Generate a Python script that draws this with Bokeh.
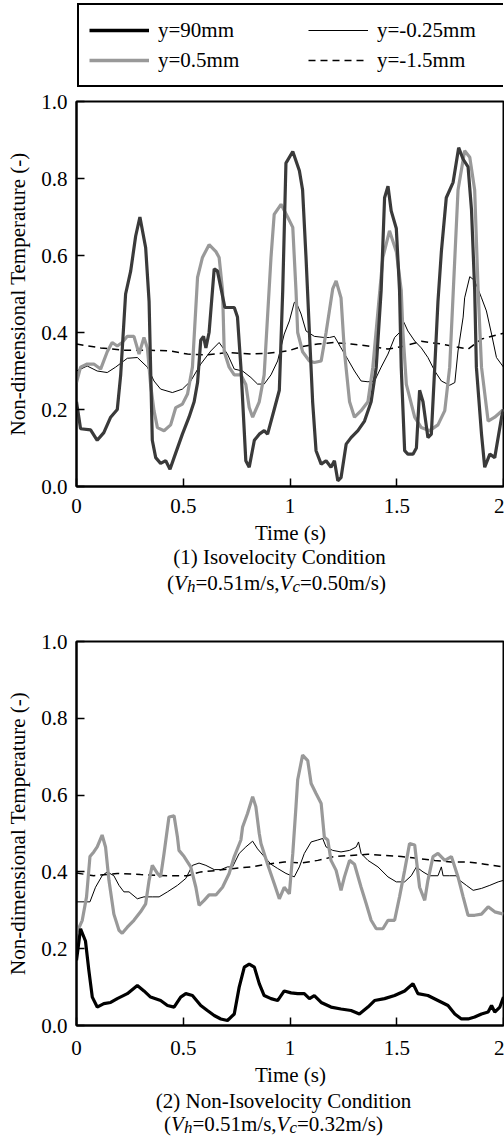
from bokeh.plotting import figure
from bokeh.layouts import column
from bokeh.models import Legend, LegendItem, Label, FixedTicker, Range1d
from bokeh.embed import file_html
from bokeh.resources import INLINE

FONT = "Liberation Serif"

# ---------------- data: chart (1) isovelocity ----------------
t1_90 = [0, 0.019, 0.066, 0.097, 0.128, 0.160, 0.191, 0.207, 0.230, 0.254, 0.277, 0.297, 0.324, 0.340,
         0.355, 0.371, 0.394, 0.418, 0.438, 0.457, 0.496, 0.527, 0.551, 0.567, 0.582, 0.595, 0.606,
         0.621, 0.645, 0.660, 0.695, 0.739, 0.754, 0.770, 0.793, 0.809, 0.833, 0.856, 0.879, 0.895,
         0.926, 0.950, 0.966, 0.981, 1.013, 1.044, 1.059, 1.075, 1.091, 1.106, 1.122, 1.146, 1.169,
         1.192, 1.208, 1.224, 1.239, 1.263, 1.286, 1.318, 1.349, 1.380, 1.404, 1.427, 1.443, 1.459,
         1.474, 1.498, 1.513, 1.521, 1.537, 1.552, 1.576, 1.592, 1.607, 1.623, 1.646, 1.662, 1.678,
         1.693, 1.709, 1.732, 1.764, 1.790, 1.811, 1.834, 1.850, 1.865, 1.873, 1.897, 1.912, 1.936,
         1.959, 1.991, 2.0]
v1_90 = [0.22, 0.15, 0.147, 0.12, 0.14, 0.18, 0.20, 0.29, 0.50, 0.56, 0.65, 0.70, 0.62, 0.48,
         0.12, 0.075, 0.06, 0.067, 0.045, 0.075, 0.136, 0.18, 0.22, 0.27, 0.38, 0.39, 0.36,
         0.40, 0.565, 0.56, 0.465, 0.465, 0.44, 0.31, 0.067, 0.05, 0.12, 0.136, 0.145, 0.136,
         0.20, 0.25, 0.51, 0.84, 0.87, 0.82, 0.77, 0.595, 0.40, 0.22, 0.093, 0.058, 0.067,
         0.05, 0.067, 0.015, 0.023, 0.11, 0.127, 0.145, 0.17, 0.22, 0.31, 0.51, 0.75, 0.78,
         0.716, 0.67, 0.51, 0.31, 0.093, 0.084, 0.084, 0.10, 0.25, 0.22, 0.127, 0.136, 0.31,
         0.48, 0.61, 0.75, 0.79, 0.88, 0.85, 0.83, 0.72, 0.51, 0.31, 0.136, 0.05, 0.084,
         0.075, 0.18, 0.20]

t1_05 = [0, 0.019, 0.050, 0.081, 0.113, 0.144, 0.167, 0.191, 0.214, 0.238, 0.269, 0.293, 0.316, 0.332,
         0.347, 0.363, 0.379, 0.410, 0.441, 0.465, 0.496, 0.520, 0.543, 0.567, 0.590, 0.621, 0.653,
         0.668, 0.684, 0.692, 0.715, 0.739, 0.770, 0.793, 0.809, 0.825, 0.856, 0.879, 0.911, 0.926,
         0.958, 0.989, 1.013, 1.028, 1.036, 1.059, 1.091, 1.114, 1.146, 1.169, 1.200, 1.216, 1.239,
         1.255, 1.279, 1.302, 1.333, 1.365, 1.388, 1.435, 1.466, 1.498, 1.521, 1.529, 1.545, 1.584,
         1.615, 1.654, 1.693, 1.725, 1.748, 1.787, 1.818, 1.842, 1.865, 1.881, 1.897, 1.928, 1.959,
         2.0]
v1_05 = [0.27, 0.31, 0.318, 0.318, 0.305, 0.35, 0.374, 0.365, 0.374, 0.39, 0.39, 0.344, 0.387, 0.36,
         0.265, 0.197, 0.153, 0.145, 0.16, 0.205, 0.214, 0.24, 0.31, 0.543, 0.595, 0.628, 0.61,
         0.595, 0.51, 0.35, 0.31, 0.29, 0.29, 0.265, 0.205, 0.18, 0.22, 0.29, 0.595, 0.707,
         0.733, 0.70, 0.673, 0.51, 0.40, 0.35, 0.326, 0.322, 0.326, 0.40, 0.513, 0.534, 0.49,
         0.35, 0.22, 0.18, 0.197, 0.22, 0.31, 0.595, 0.664, 0.61, 0.51, 0.40, 0.265, 0.18,
         0.153, 0.145, 0.16, 0.197, 0.31, 0.77, 0.872, 0.855, 0.77, 0.51, 0.31, 0.17, 0.18,
         0.20]

t1_m025 = [0, 0.050, 0.097, 0.144, 0.183, 0.238, 0.285, 0.332, 0.363, 0.394, 0.449, 0.496, 0.535, 0.582,
           0.629, 0.668, 0.707, 0.739, 0.778, 0.817, 0.848, 0.879, 0.911, 0.942, 0.973, 0.997, 1.020,
           1.028, 1.052, 1.075, 1.114, 1.161, 1.185, 1.208, 1.239, 1.271, 1.302, 1.333, 1.365, 1.396,
           1.427, 1.459, 1.490, 1.513, 1.534, 1.552, 1.584, 1.615, 1.646, 1.678, 1.709, 1.748, 1.772,
           1.787, 1.811, 1.818, 1.842, 1.865, 1.897, 1.920, 1.944, 1.967, 2.0]
v1_m025 = [0.30, 0.313, 0.30, 0.296, 0.31, 0.333, 0.335, 0.31, 0.274, 0.253, 0.244, 0.253, 0.274, 0.318,
           0.352, 0.374, 0.344, 0.305, 0.30, 0.283, 0.266, 0.266, 0.29, 0.326, 0.396, 0.43, 0.478,
           0.48, 0.448, 0.404, 0.39, 0.387, 0.387, 0.39, 0.36, 0.33, 0.30, 0.274, 0.272, 0.274,
           0.31, 0.344, 0.387, 0.40, 0.426, 0.404, 0.378, 0.36, 0.335, 0.30, 0.274, 0.263, 0.27,
           0.352, 0.44, 0.49, 0.545, 0.535, 0.49, 0.456, 0.396, 0.335, 0.31]

t1_m15 = [0, 0.113, 0.222, 0.347, 0.441, 0.520, 0.613, 0.707, 0.817, 0.895, 0.989, 1.052, 1.130, 1.208,
          1.286, 1.365, 1.459, 1.521, 1.615, 1.709, 1.834, 1.897, 2.0]
v1_m15 = [0.37, 0.36, 0.354, 0.354, 0.352, 0.344, 0.342, 0.348, 0.344, 0.346, 0.352, 0.363, 0.37, 0.374,
          0.37, 0.365, 0.357, 0.363, 0.377, 0.37, 0.357, 0.383, 0.398]

# ---------------- data: chart (2) non-isovelocity ----------------
t2_90 = [0, 0.019, 0.042, 0.058, 0.074, 0.097, 0.128, 0.160, 0.191, 0.238, 0.285, 0.316, 0.347, 0.394,
         0.426, 0.457, 0.488, 0.512, 0.543, 0.582, 0.613, 0.645, 0.676, 0.707, 0.739, 0.762, 0.786,
         0.809, 0.833, 0.856, 0.879, 0.911, 0.942, 0.973, 1.005, 1.036, 1.067, 1.091, 1.114, 1.146,
         1.192, 1.239, 1.286, 1.325, 1.365, 1.396, 1.443, 1.490, 1.537, 1.576, 1.599, 1.646, 1.693,
         1.740, 1.772, 1.803, 1.834, 1.865, 1.897, 1.928, 1.944, 1.959, 1.983, 2.0]
v2_90 = [0.17, 0.252, 0.22, 0.143, 0.074, 0.048, 0.057, 0.06, 0.07, 0.083, 0.104, 0.09, 0.074, 0.065,
         0.052, 0.048, 0.074, 0.083, 0.078, 0.052, 0.039, 0.026, 0.017, 0.013, 0.03, 0.10, 0.152,
         0.16, 0.152, 0.109, 0.078, 0.07, 0.065, 0.09, 0.085, 0.083, 0.083, 0.07, 0.078, 0.06,
         0.048, 0.043, 0.039, 0.03, 0.048, 0.065, 0.07, 0.078, 0.09, 0.109, 0.083, 0.078, 0.065,
         0.052, 0.03, 0.017, 0.017, 0.022, 0.03, 0.035, 0.052, 0.035, 0.048, 0.074]

t2_05 = [0, 0.027, 0.047, 0.063, 0.081, 0.097, 0.120, 0.136, 0.152, 0.175, 0.199, 0.214, 0.238, 0.269,
         0.300, 0.324, 0.340, 0.355, 0.379, 0.394, 0.410, 0.433, 0.457, 0.473, 0.480, 0.504, 0.535,
         0.559, 0.574, 0.598, 0.621, 0.653, 0.684, 0.715, 0.739, 0.770, 0.778, 0.801, 0.825, 0.840,
         0.856, 0.864, 0.895, 0.926, 0.950, 0.973, 0.997, 1.013, 1.028, 1.036, 1.059, 1.083, 1.099,
         1.122, 1.146, 1.161, 1.177, 1.192, 1.216, 1.239, 1.255, 1.279, 1.302, 1.333, 1.357, 1.380,
         1.404, 1.435, 1.459, 1.490, 1.513, 1.537, 1.560, 1.584, 1.607, 1.631, 1.646, 1.670, 1.693,
         1.725, 1.756, 1.787, 1.811, 1.834, 1.865, 1.897, 1.928, 1.959, 2.0]
v2_05 = [0.24, 0.274, 0.335, 0.44, 0.452, 0.465, 0.496, 0.465, 0.378, 0.29, 0.248, 0.24, 0.256, 0.274,
         0.296, 0.317, 0.378, 0.417, 0.396, 0.387, 0.448, 0.543, 0.546, 0.49, 0.456, 0.44, 0.413,
         0.36, 0.313, 0.326, 0.34, 0.34, 0.36, 0.396, 0.44, 0.483, 0.517, 0.552, 0.596, 0.57,
         0.50, 0.474, 0.42, 0.37, 0.33, 0.36, 0.343, 0.448, 0.57, 0.64, 0.704, 0.69, 0.63,
         0.604, 0.578, 0.49, 0.483, 0.43, 0.404, 0.352, 0.387, 0.43, 0.42, 0.36, 0.317, 0.274,
         0.252, 0.252, 0.274, 0.274, 0.335, 0.404, 0.474, 0.47, 0.36, 0.326, 0.378, 0.44, 0.448,
         0.43, 0.44, 0.387, 0.335, 0.287, 0.287, 0.29, 0.309, 0.296, 0.29]

t2_m025 = [0, 0.063, 0.089, 0.120, 0.144, 0.175, 0.199, 0.222, 0.246, 0.285, 0.316, 0.355, 0.387, 0.426,
           0.473, 0.512, 0.543, 0.574, 0.606, 0.645, 0.676, 0.707, 0.731, 0.762, 0.793, 0.825, 0.848,
           0.879, 0.911, 0.942, 0.981, 1.020, 1.044, 1.067, 1.099, 1.130, 1.153, 1.169, 1.200, 1.239,
           1.279, 1.310, 1.321, 1.333, 1.365, 1.412, 1.459, 1.498, 1.537, 1.568, 1.592, 1.623, 1.654,
           1.693, 1.709, 1.717, 1.748, 1.779, 1.795, 1.826, 1.858, 1.897, 1.936, 1.975, 2.0]
v2_m025 = [0.322, 0.322, 0.36, 0.39, 0.40, 0.39, 0.365, 0.348, 0.348, 0.33, 0.335, 0.335, 0.335, 0.348,
           0.365, 0.383, 0.417, 0.423, 0.417, 0.406, 0.406, 0.413, 0.413, 0.448, 0.465, 0.48, 0.46,
           0.44, 0.42, 0.409, 0.396, 0.387, 0.413, 0.448, 0.478, 0.483, 0.487, 0.465, 0.456, 0.452,
           0.456, 0.465, 0.478, 0.448, 0.43, 0.413, 0.387, 0.374, 0.374, 0.39, 0.413, 0.40, 0.39,
           0.39, 0.413, 0.39, 0.39, 0.39, 0.378, 0.365, 0.352, 0.357, 0.365, 0.374, 0.378]

t2_m15 = [0, 0.081, 0.191, 0.300, 0.426, 0.520, 0.582, 0.660, 0.739, 0.817, 0.895, 0.973, 1.052, 1.130,
          1.208, 1.286, 1.365, 1.443, 1.521, 1.599, 1.678, 1.756, 1.834, 1.912, 2.0]
v2_m15 = [0.397, 0.39, 0.396, 0.393, 0.39, 0.39, 0.40, 0.404, 0.409, 0.413, 0.42, 0.426, 0.423, 0.43,
          0.44, 0.443, 0.446, 0.443, 0.44, 0.435, 0.43, 0.426, 0.426, 0.42, 0.413]

series_labels = ["y=90mm", "y=0.5mm", "y=-0.25mm", "y=-1.5mm"]
x_ticks = [0, 0.5, 1, 1.5, 2]
x_tick_labels = ["0", "0.5", "1", "1.5", "2"]
y_ticks = [0.0, 0.2, 0.4, 0.6, 0.8, 1.0]
y_tick_labels = ["0.0", "0.2", "0.4", "0.6", "0.8", "1.0"]
x_title = "Time (s)"
y_title = "Non-dimensional Temperature (-)"

W = 504
FS = "21px"
LEFT = 76
RIGHT = 1
SUB = 17
DY = 6   # baseline correction for caption labels

# Times / Liberation Serif advance widths (per 1000 em)
ADV = {"(": 333, ")": 333, "=": 564, "0": 500, "1": 500, "2": 500, "3": 500, "5": 500, ".": 250,
       "m": 778, "/": 278, "s": 389, ",": 250}
ADV_IT = {"V": 611, "h": 500, "c": 444}


def text_width(s, size, italic=False):
    table = ADV_IT if italic else ADV
    return sum(table.get(ch, 500) for ch in s) * size / 1000.0


def style_axes(p, tick_standoff):
    p.xgrid.visible = False
    p.ygrid.visible = False
    p.outline_line_color = "black"
    p.outline_line_width = 2
    p.xaxis.ticker = FixedTicker(ticks=x_ticks)
    p.xaxis.major_label_overrides = {k: v for k, v in zip(x_ticks, x_tick_labels)}
    p.yaxis.ticker = FixedTicker(ticks=y_ticks)
    p.yaxis.major_label_overrides = {k: v for k, v in zip(y_ticks, y_tick_labels)}
    for ax in (p.xaxis[0], p.yaxis[0]):
        ax.axis_line_width = 2
        ax.axis_line_color = "black"
        ax.major_tick_in = 8
        ax.major_tick_out = 0
        ax.minor_tick_in = 0
        ax.minor_tick_out = 0
        ax.major_tick_line_width = 1.5
        ax.major_label_text_font = FONT
        ax.major_label_text_font_size = FS
        ax.major_label_text_color = "black"
        ax.axis_label_text_font = FONT
        ax.axis_label_text_font_size = FS
        ax.axis_label_text_font_style = "normal"
        ax.axis_label_text_color = "black"
    p.yaxis.axis_label = y_title
    p.xaxis.major_label_standoff = tick_standoff
    p.yaxis.major_label_standoff = 9
    p.yaxis.axis_label_standoff = 8


def add_lines(p, data, dark):
    (ta, va), (tb, vb), (tc, vc), (td, vd) = data
    rc = p.line(tc, vc, line_color="black", line_width=1)
    rd = p.line(td, vd, line_color="black", line_width=1.5, line_dash="7 5")
    rb = p.line(tb, vb, line_color="#999999", line_width=3.2)
    ra = p.line(ta, va, line_color=dark, line_width=3.2)
    return [ra, rb, rc, rd]


def make_chart(height, top, bottom, data, dark, tick_standoff):
    p = figure(width=W, height=height, x_range=Range1d(0, 2), y_range=Range1d(0, 1),
               output_backend="svg", toolbar_location=None, title=None,
               min_border_left=LEFT, min_border_right=RIGHT, min_border_top=top, min_border_bottom=bottom)
    style_axes(p, tick_standoff)
    add_lines(p, data, dark)
    return p


def blank(height, **kw):
    c = figure(width=W, height=height, output_backend="svg", toolbar_location=None, title=None,
               x_axis_type=None, y_axis_type=None, outline_line_color=None,
               min_border_left=LEFT, min_border_right=RIGHT, min_border_top=0, min_border_bottom=0, **kw)
    c.xgrid.visible = False
    c.ygrid.visible = False
    return c


def make_caption(height, line1, vh, vc, cx0, cx1, cx2, y0, y1, y2):
    c = blank(height)
    for txt, cx, y in ((x_title, cx0, y0), (line1, cx1, y1)):
        c.add_layout(Label(x=cx, y=y + DY, x_units="screen", y_units="screen", text=txt,
                           text_font=FONT, text_font_size=FS, text_align="center",
                           text_baseline="alphabetic", text_color="black"))
    pieces = [("(", False, False), ("V", True, False), ("h", True, True), ("=" + vh + "m/s,", False, False),
              ("V", True, False), ("c", True, True), ("=" + vc + "m/s)", False, False)]
    full = sum(text_width(t, SUB if s else 21, i) for t, i, s in pieces)
    x = cx2 - full / 2.0
    for txt, it, sub in pieces:
        size = SUB if sub else 21
        c.add_layout(Label(x=x, y=y2 + DY - (4 if sub else 0), x_units="screen", y_units="screen",
                           text=txt, text_font=FONT, text_font_size=f"{size}px",
                           text_font_style="italic" if it else "normal",
                           text_align="left", text_baseline="alphabetic", text_color="black"))
        x += text_width(txt, size, it)
    return c


# legend strip: proxy lines carry chart (1) data but sit outside the visible range
lp = blank(88, x_range=Range1d(0, 2), y_range=Range1d(5, 6))
prox = add_lines(lp, [(t1_90, v1_90), (t1_05, v1_05), (t1_m025, v1_m025), (t1_m15, v1_m15)], "black")
prox[0].glyph.line_width = 3.6
prox[1].glyph.line_width = 3.6
legend = Legend(items=[LegendItem(label=series_labels[i], renderers=[prox[i]]) for i in range(4)],
                location=(1, 1), ncols=2, glyph_width=60, glyph_height=30, label_standoff=9,
                label_width=150, label_height=30, spacing=0, padding=10, margin=0,
                label_text_font=FONT, label_text_font_size=FS, label_text_color="black",
                border_line_color="black", border_line_alpha=1.0, border_line_width=2,
                background_fill_alpha=1)
lp.add_layout(legend, "center")

# chart (1): frame 101..486
p1 = make_chart(434, 13, 36,
                [(t1_90, v1_90), (t1_05, v1_05), (t1_m025, v1_m025), (t1_m15, v1_m15)],
                "#3a3a3a", 12)
cap1 = make_caption(86, "(1) Isovelocity Condition", "0.51", "0.50", 214, 203, 200, 70, 46, 20)

# chart (2): frame 641..1025
p2 = make_chart(456, 33, 39,
                [(t2_90, v2_90), (t2_05, v2_05), (t2_m025, v2_m025), (t2_m15, v2_m15)],
                "black", 15)
cap2 = make_caption(78, "(2) Non-Isovelocity Condition", "0.51", "0.32", 214, 207, 197, 62, 36, 13)

layout = column(lp, p1, cap1, p2, cap2, spacing=0)
open("out.html", "w").write(file_html(layout, INLINE))
